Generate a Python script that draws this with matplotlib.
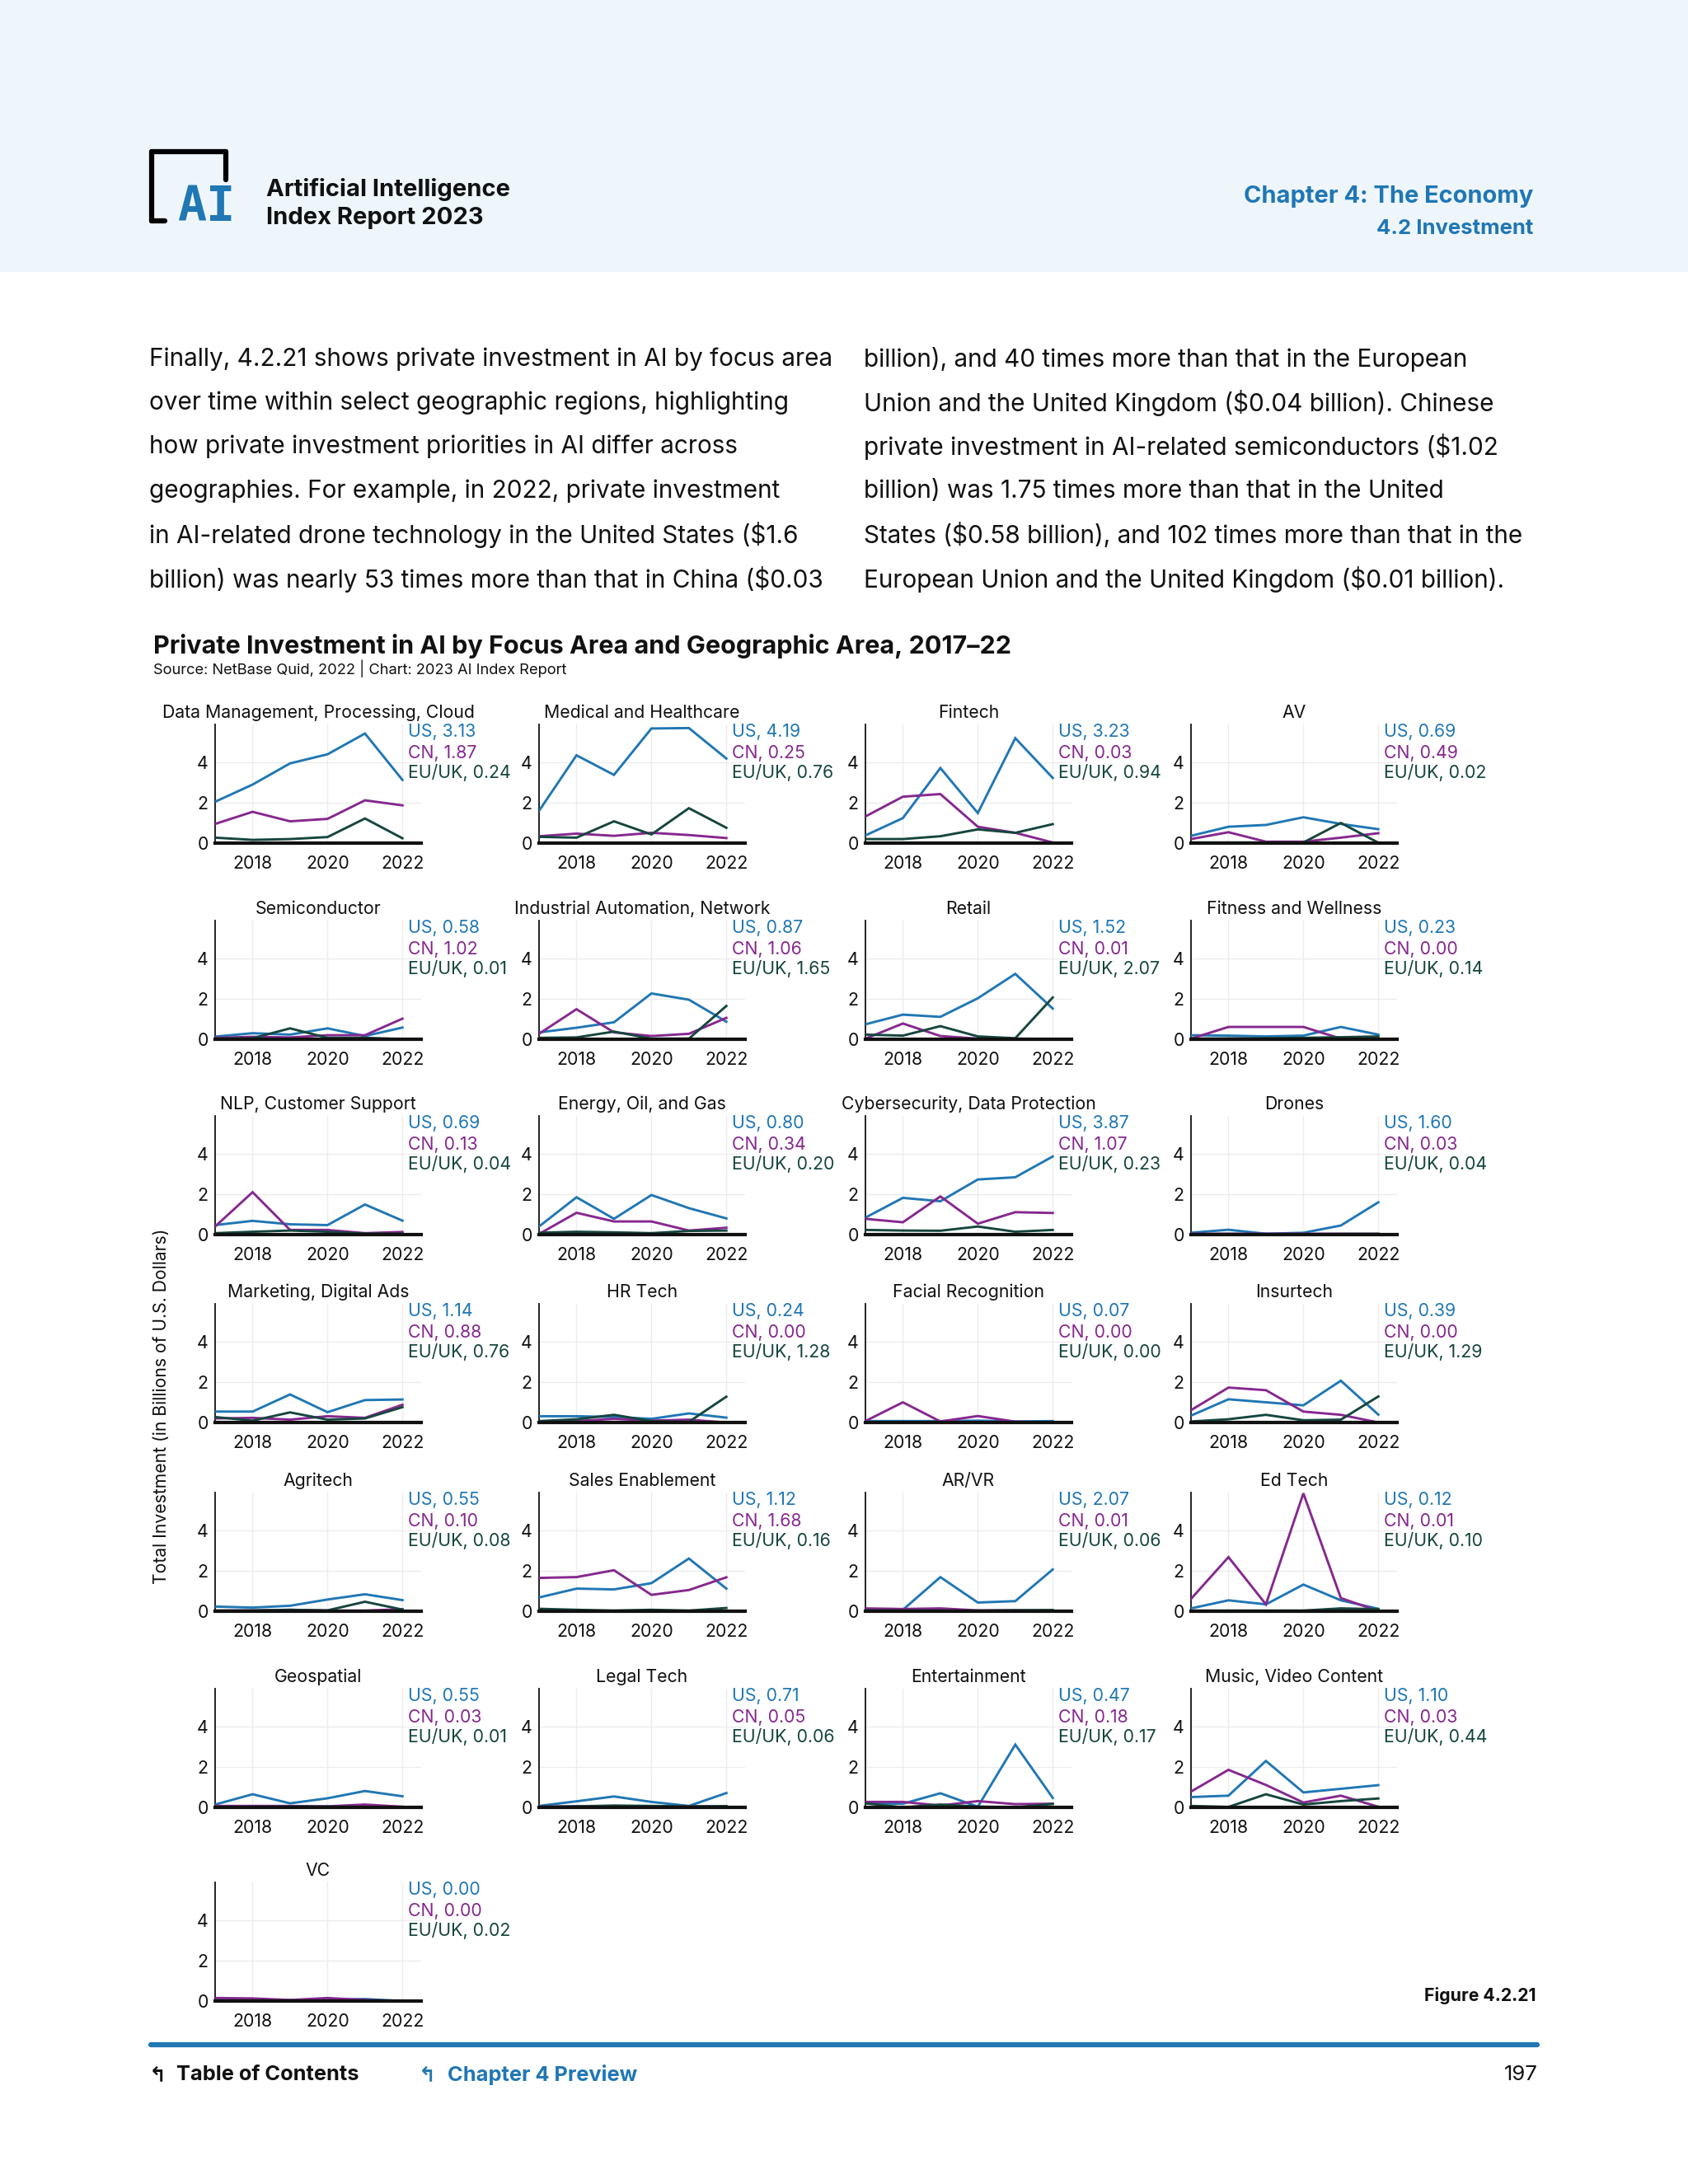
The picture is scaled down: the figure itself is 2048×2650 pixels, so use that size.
import matplotlib
matplotlib.use("Agg")
import matplotlib.pyplot as plt
from matplotlib.patches import Rectangle
from matplotlib.lines import Line2D

plt.rcParams['font.family'] = ['Inter', 'DejaVu Sans']

# ---------------- data ----------------
years = [2017, 2018, 2019, 2020, 2021, 2022]
year_ticks = [2018, 2020, 2022]
y_ticks = [0, 2, 4]

categories = [
    "Data Management, Processing, Cloud", "Medical and Healthcare", "Fintech", "AV",
    "Semiconductor", "Industrial Automation, Network", "Retail", "Fitness and Wellness",
    "NLP, Customer Support", "Energy, Oil, and Gas", "Cybersecurity, Data Protection", "Drones",
    "Marketing, Digital Ads", "HR Tech", "Facial Recognition", "Insurtech",
    "Agritech", "Sales Enablement", "AR/VR", "Ed Tech",
    "Geospatial", "Legal Tech", "Entertainment", "Music, Video Content",
    "VC",
]

us_values = [
    [2.05, 2.90, 3.95, 4.40, 5.43, 3.13],
    [1.60, 4.35, 3.38, 5.68, 5.70, 4.19],
    [0.38, 1.24, 3.72, 1.49, 5.20, 3.23],
    [0.36, 0.81, 0.90, 1.28, 0.95, 0.69],
    [0.13, 0.30, 0.23, 0.54, 0.16, 0.58],
    [0.34, 0.57, 0.84, 2.27, 1.96, 0.87],
    [0.74, 1.22, 1.11, 2.03, 3.24, 1.52],
    [0.20, 0.18, 0.14, 0.18, 0.61, 0.23],
    [0.47, 0.68, 0.51, 0.47, 1.49, 0.69],
    [0.40, 1.85, 0.78, 1.96, 1.31, 0.80],
    [0.84, 1.82, 1.65, 2.73, 2.84, 3.87],
    [0.09, 0.24, 0.04, 0.09, 0.45, 1.60],
    [0.54, 0.54, 1.39, 0.51, 1.11, 1.14],
    [0.31, 0.31, 0.27, 0.18, 0.45, 0.24],
    [0.07, 0.07, 0.07, 0.09, 0.05, 0.07],
    [0.34, 1.15, 1.00, 0.85, 2.07, 0.39],
    [0.23, 0.18, 0.27, 0.58, 0.84, 0.55],
    [0.68, 1.12, 1.08, 1.39, 2.61, 1.12],
    [0.09, 0.07, 1.69, 0.43, 0.50, 2.07],
    [0.14, 0.54, 0.34, 1.32, 0.54, 0.12],
    [0.14, 0.65, 0.20, 0.45, 0.81, 0.55],
    [0.07, 0.30, 0.54, 0.27, 0.07, 0.71],
    [0.20, 0.18, 0.70, 0.03, 3.11, 0.47],
    [0.51, 0.58, 2.30, 0.74, 0.92, 1.10],
    [0.05, 0.07, 0.05, 0.07, 0.10, 0.00],
]

cn_values = [
    [0.95, 1.55, 1.08, 1.20, 2.12, 1.87],
    [0.34, 0.47, 0.36, 0.51, 0.40, 0.25],
    [1.32, 2.30, 2.43, 0.81, 0.51, 0.03],
    [0.20, 0.54, 0.07, 0.07, 0.27, 0.49],
    [0.07, 0.12, 0.09, 0.20, 0.20, 1.02],
    [0.27, 1.49, 0.34, 0.16, 0.27, 1.06],
    [0.03, 0.78, 0.16, 0.03, 0.03, 0.01],
    [0.03, 0.61, 0.61, 0.61, 0.03, 0.00],
    [0.40, 2.10, 0.23, 0.23, 0.07, 0.13],
    [0.03, 1.08, 0.65, 0.65, 0.20, 0.34],
    [0.78, 0.61, 1.89, 0.54, 1.11, 1.07],
    [0.04, 0.04, 0.04, 0.04, 0.04, 0.03],
    [0.20, 0.23, 0.14, 0.31, 0.23, 0.88],
    [0.03, 0.07, 0.18, 0.09, 0.14, 0.00],
    [0.07, 1.00, 0.05, 0.32, 0.04, 0.00],
    [0.61, 1.73, 1.60, 0.54, 0.38, 0.00],
    [0.03, 0.03, 0.07, 0.03, 0.03, 0.10],
    [1.65, 1.69, 2.03, 0.81, 1.05, 1.68],
    [0.14, 0.11, 0.14, 0.04, 0.04, 0.01],
    [0.61, 2.68, 0.34, 5.84, 0.65, 0.01],
    [0.07, 0.07, 0.07, 0.05, 0.14, 0.03],
    [0.03, 0.05, 0.06, 0.05, 0.05, 0.05],
    [0.27, 0.27, 0.09, 0.31, 0.16, 0.18],
    [0.78, 1.86, 1.11, 0.24, 0.58, 0.03],
    [0.15, 0.13, 0.05, 0.15, 0.05, 0.00],
]

eu_values = [
    [0.27, 0.16, 0.20, 0.30, 1.22, 0.24],
    [0.31, 0.27, 1.08, 0.43, 1.73, 0.76],
    [0.20, 0.20, 0.34, 0.68, 0.51, 0.94],
    [0.03, 0.03, 0.03, 0.03, 1.00, 0.02],
    [0.03, 0.05, 0.54, 0.07, 0.07, 0.01],
    [0.07, 0.09, 0.38, 0.03, 0.03, 1.65],
    [0.23, 0.18, 0.65, 0.14, 0.05, 2.07],
    [0.03, 0.04, 0.05, 0.07, 0.10, 0.14],
    [0.07, 0.14, 0.20, 0.14, 0.05, 0.04],
    [0.09, 0.14, 0.11, 0.07, 0.18, 0.20],
    [0.23, 0.20, 0.19, 0.40, 0.14, 0.23],
    [0.02, 0.03, 0.02, 0.02, 0.03, 0.04],
    [0.27, 0.09, 0.50, 0.14, 0.20, 0.76],
    [0.07, 0.16, 0.38, 0.07, 0.03, 1.28],
    [0.01, 0.01, 0.01, 0.01, 0.01, 0.00],
    [0.05, 0.16, 0.38, 0.11, 0.14, 1.29],
    [0.03, 0.04, 0.07, 0.04, 0.47, 0.08],
    [0.12, 0.07, 0.03, 0.07, 0.03, 0.16],
    [0.04, 0.04, 0.03, 0.03, 0.05, 0.06],
    [0.03, 0.03, 0.03, 0.03, 0.14, 0.10],
    [0.02, 0.03, 0.04, 0.04, 0.02, 0.01],
    [0.03, 0.05, 0.09, 0.07, 0.05, 0.06],
    [0.20, 0.00, 0.14, 0.04, 0.00, 0.17],
    [0.07, 0.02, 0.65, 0.14, 0.31, 0.44],
    [0.03, 0.03, 0.02, 0.02, 0.02, 0.02],
]

region_names = ["US", "CN", "EU/UK"]
region_colors = ["#2077b4", "#86288f", "#16463f"]

# ---------------- figure ----------------
W, H = 2048, 2650
fig = plt.figure(figsize=(W / 100, H / 100), dpi=100)
fig.patch.set_facecolor("white")

def px(x, y):
    return x / W, 1 - y / H

# header band
fig.patches.append(Rectangle((0, 1 - 330 / H), 1, 330 / H, transform=fig.transFigure,
                             facecolor="#eef6fc", edgecolor="none", zorder=0))

# logo
def fline(x0, y0, x1, y1, color="black", lw=4.5):
    (a, b), (c, d) = px(x0, y0), px(x1, y1)
    fig.lines.append(Line2D([a, c], [b, d], transform=fig.transFigure, color=color,
                            lw=lw, solid_capstyle="round", solid_joinstyle="round"))

fline(184, 184, 274, 184)
fline(184, 184, 184, 268)
fline(184, 268, 200, 268)
fline(274, 184, 274, 218)
fig.text(*px(250, 251), "AI", fontsize=42, fontweight="bold", color="#2077b4",
         family="DejaVu Sans Mono", ha="center", va="center")

fig.text(*px(323, 230), "Artificial Intelligence", fontsize=21, fontweight="bold",
         color="#111111", ha="left", va="center")
fig.text(*px(323, 265), "Index Report 2023", fontsize=21, fontweight="bold",
         color="#111111", ha="left", va="center")
fig.text(*px(1860, 238), "Chapter 4: The Economy", fontsize=20.9, fontweight="bold",
         color="#2077b4", ha="right", va="center")
fig.text(*px(1860, 277), "4.2 Investment", fontsize=18.5, fontweight="bold",
         color="#2077b4", ha="right", va="center")

# body text
left_lines = [
    "Finally, 4.2.21 shows private investment in AI by focus area",
    "over time within select geographic regions, highlighting",
    "how private investment priorities in AI differ across",
    "geographies. For example, in 2022, private investment",
    "in AI-related drone technology in the United States ($1.6",
    "billion) was nearly 53 times more than that in China ($0.03",
]
right_lines = [
    "billion), and 40 times more than that in the European",
    "Union and the United Kingdom ($0.04 billion). Chinese",
    "private investment in AI-related semiconductors ($1.02",
    "billion) was 1.75 times more than that in the United",
    "States ($0.58 billion), and 102 times more than that in the",
    "European Union and the United Kingdom ($0.01 billion).",
]
line_y = [436, 489, 542, 596, 649, 703]
for s, y in zip(left_lines, line_y):
    fig.text(*px(181, y), s, fontsize=21.4, color="#111111", ha="left", va="center",
             parse_math=False)
for s, y in zip(right_lines, line_y):
    fig.text(*px(1048, y), s, fontsize=21.4, color="#111111", ha="left", va="center",
             parse_math=False)

# chart title
fig.text(*px(186, 784), "Private Investment in AI by Focus Area and Geographic Area, 2017\u201322",
         fontsize=22, fontweight="bold", color="#111111", ha="left", va="center")
fig.text(*px(186, 811), "Source: NetBase Quid, 2022 | Chart: 2023 AI Index Report",
         fontsize=13.2, color="#111111", ha="left", va="center")

# y label
fig.text(*px(196, 1706), "Total Investment (in Billions of U.S. Dollars)", fontsize=15.2,
         color="#111111", rotation=90, ha="center", va="center")

# small multiples
col_left = [261, 654, 1050, 1445]
row_bottom = [1023, 1261, 1498, 1726, 1955, 2193, 2428]
ax_w, ax_h = 250, 144
FS = 15.3

for i, cat in enumerate(categories):
    r, c = divmod(i, 4)
    l = col_left[c]
    b = row_bottom[r]
    ax = fig.add_axes([l / W, 1 - b / H, ax_w / W, ax_h / H])
    ax.set_facecolor("none")
    series = [us_values[i], cn_values[i], eu_values[i]]
    for vals, col in zip(series, region_colors):
        ax.plot(years, vals, color=col, lw=2.1, solid_joinstyle="miter", zorder=3)
    ax.set_xlim(2017, 2022.5)
    ax.set_ylim(0, 5.88)
    ax.set_xticks(year_ticks)
    ax.set_yticks(y_ticks)
    ax.set_xticklabels([str(y) for y in year_ticks])
    ax.tick_params(axis="both", length=0, labelsize=FS, colors="#111111")
    ax.tick_params(axis="x", pad=11)
    ax.tick_params(axis="y", pad=6)
    ax.grid(True, color="#ececec", lw=1.0, zorder=0)
    for s in ["top", "right"]:
        ax.spines[s].set_visible(False)
    ax.spines["left"].set_linewidth(1.3)
    ax.spines["left"].set_color("#111111")
    ax.spines["bottom"].set_linewidth(3.0)
    ax.spines["bottom"].set_color("#111111")
    ax.spines["bottom"].set_zorder(5)
    ax.set_title(cat, fontsize=FS, color="#111111", pad=6)
    offsets = [-6.5, -25, -42]
    for name, vals, col, off in zip(region_names, series, region_colors, offsets):
        ax.annotate(f"{name}, {vals[-1]:.2f}", xy=(0.935, 1.0), xycoords="axes fraction",
                    xytext=(0, off), textcoords="offset points", fontsize=FS,
                    color=col, ha="left", va="center", annotation_clip=False)

# figure label & footer
fig.text(*px(1864, 2422), "Figure 4.2.21", fontsize=15.3, fontweight="bold",
         color="#111111", ha="right", va="center")
fline(183, 2481, 1865, 2481, color="#2077b4", lw=4.5)
fig.text(*px(181, 2518), "\u21b0", fontsize=18, fontweight="bold", color="#111111",
         ha="left", va="center", family="DejaVu Sans")
fig.text(*px(214, 2518), "Table of Contents", fontsize=18.3, fontweight="bold",
         color="#111111", ha="left", va="center")
fig.text(*px(508, 2518), "\u21b0", fontsize=18, fontweight="bold", color="#2077b4",
         ha="left", va="center", family="DejaVu Sans")
fig.text(*px(543, 2518), "Chapter 4 Preview", fontsize=18.3, fontweight="bold",
         color="#2077b4", ha="left", va="center")
fig.text(*px(1866, 2518), "197", fontsize=18.5, color="#111111", ha="right", va="center")

fig.savefig("out.png", dpi=100, facecolor="white")
